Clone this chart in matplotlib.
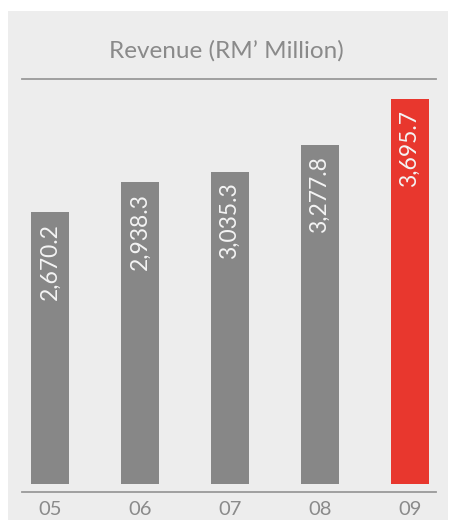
import matplotlib
matplotlib.use("Agg")
import matplotlib.pyplot as plt
from matplotlib.lines import Line2D
from matplotlib.patches import Rectangle

years = ["05", "06", "07", "08", "09"]
revenue = [2670.2, 2938.3, 3035.3, 3277.8, 3695.7]
bar_colors = ["#878787", "#878787", "#878787", "#878787", "#e8372e"]
title = "Revenue (RM\u2019 Million)"

W, H = 449, 520
plt.rcParams["font.family"] = ["Lato", "DejaVu Sans"]

fig = plt.figure(figsize=(W / 100, H / 100), dpi=100)
fig.patch.set_facecolor("white")
fig.add_artist(Rectangle((8 / W, 0), 440 / W, 1 - 11 / H, transform=fig.transFigure,
                         facecolor="#ededed", edgecolor="none", zorder=0))

# title and the two rules
fig.text(226 / W, 1 - 51 / H, title, ha="center", va="center", fontsize=17.5,
         color="#8a8a8a")
for ypix in (79, 492):
    fig.add_artist(Line2D([22 / W, 436 / W], [1 - ypix / H, 1 - ypix / H],
                          transform=fig.transFigure, color="#999999", linewidth=1.3))

# axes: bars baseline at 484 px, tallest bar top at 99 px
ax_left, ax_right = 22, 436
ax_bottom, ax_top = 484, 84
ax = fig.add_axes([ax_left / W, 1 - ax_bottom / H, (ax_right - ax_left) / W,
                   (ax_bottom - ax_top) / H])
ax.set_facecolor("none")

unit = 89.9  # px per category
x = list(range(len(years)))
ax.set_xlim((ax_left - 50) / unit, (ax_right - 50) / unit)
px_per_val = 0.1102
y_low = 201
ax.set_ylim(y_low, y_low + (ax_bottom - ax_top) / px_per_val)

ax.bar(x, revenue, width=38 / unit, color=bar_colors, zorder=2)
for xi, v in zip(x, revenue):
    ax.annotate(f"{v:,.1f}", (xi, v), xytext=(0, -11), textcoords="offset pixels",
                rotation=90, ha="center", va="top", fontsize=16.5, color="#f4f4f4",
                zorder=3)

ax.set_xticks(x)
ax.set_xticklabels(years, fontsize=14.5, color="#8a8a8a")
ax.tick_params(axis="x", length=0, pad=12)
ax.set_yticks([])
for spine in ax.spines.values():
    spine.set_visible(False)

fig.savefig("out.png", dpi=100)
